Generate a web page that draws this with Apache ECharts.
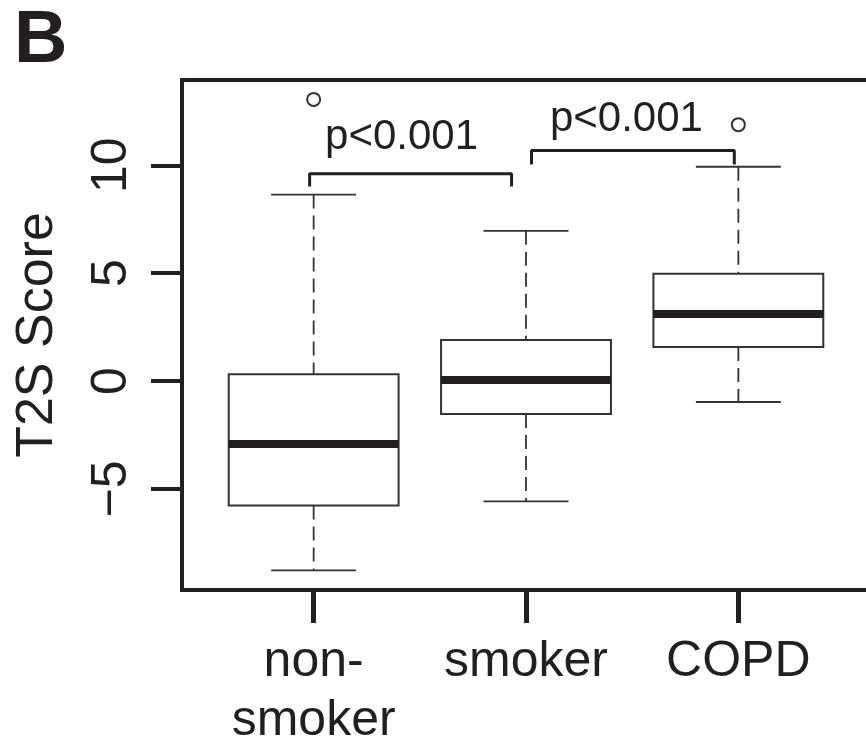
<!DOCTYPE html>
<html>
<head>
<meta charset="utf-8">
<script src="https://cdn.jsdelivr.net/npm/echarts@6/dist/echarts.min.js"></script>
<style>
  html, body { margin: 0; padding: 0; background: #fff; }
  #chart { width: 866px; height: 742px; }
</style>
</head>
<body>
<div id="chart"></div>
<script>
// group names and their x positions
const categories = ['non-\nsmoker', 'smoker', 'COPD'];
const positions = [1, 2, 3];

// box statistics
const lowWhisker = [-8.77, -5.57, -0.97];
const q1 = [-5.76, -1.53, 1.58];
const median = [-2.92, 0.05, 3.11];
const q3 = [0.32, 1.90, 4.97];
const highWhisker = [8.64, 6.96, 9.93];
const outliers = [[1, 13.05], [3, 11.88]];

const yTicks = [-5, 0, 5, 10];

// significance brackets and their labels
const bracketA = [[0.981, 9.01], [0.981, 9.61], [1.932, 9.61], [1.932, 9.01]];
const bracketB = [[2.026, 10.03], [2.026, 10.68], [2.981, 10.68], [2.981, 10.03]];
const pLabels = [[1.414, 11.28, 'p<0.001'], [2.473, 12.12, 'p<0.001']];

const ink = '#231f20';
const font = '"Liberation Sans", Arial, Helvetica, sans-serif';

const boxData = positions.map((x, i) => [x, lowWhisker[i], q1[i], median[i], q3[i], highWhisker[i]]);

const chart = echarts.init(document.getElementById('chart'));

const renderBox = (params, api) => {
  const x = api.value(0);
  const lo = api.coord([x, api.value(1)]);
  const b1 = api.coord([x, api.value(2)]);
  const md = api.coord([x, api.value(3)]);
  const b3 = api.coord([x, api.value(4)]);
  const hi = api.coord([x, api.value(5)]);
  const half = api.size([0.4, 0])[0];
  const cap = api.size([0.2, 0])[0];
  const solid = { stroke: '#333', lineWidth: 1.8 };
  const dashed = { stroke: '#333', lineWidth: 1.8, lineDash: [14, 7] };
  return {
    type: 'group',
    children: [
      { type: 'line', shape: { x1: hi[0], y1: hi[1], x2: b3[0], y2: b3[1] }, style: dashed },
      { type: 'line', shape: { x1: b1[0], y1: b1[1], x2: lo[0], y2: lo[1] }, style: dashed },
      { type: 'line', shape: { x1: hi[0] - cap, y1: hi[1], x2: hi[0] + cap, y2: hi[1] }, style: solid },
      { type: 'line', shape: { x1: lo[0] - cap, y1: lo[1], x2: lo[0] + cap, y2: lo[1] }, style: solid },
      {
        type: 'rect',
        shape: { x: b3[0] - half, y: b3[1], width: half * 2, height: b1[1] - b3[1] },
        style: { fill: '#fff', stroke: '#333', lineWidth: 2 }
      },
      { type: 'line', shape: { x1: md[0] - half, y1: md[1], x2: md[0] + half, y2: md[1] }, style: { stroke: ink, lineWidth: 8 } }
    ]
  };
};

const option = {
  animation: false,
  backgroundColor: '#fff',
  textStyle: { fontFamily: font },
  grid: {
    left: 182,
    top: 80,
    width: 688,
    height: 510,
    outerBoundsMode: 'none',
    containLabel: false,
    show: true,
    borderColor: ink,
    borderWidth: 4,
    backgroundColor: 'transparent'
  },
  graphic: [
    {
      type: 'text',
      left: 14,
      top: 5,
      style: { text: 'B', font: 'bold 74px ' + font, fill: ink }
    }
  ],
  xAxis: {
    type: 'value',
    min: 0.38,
    max: 3.62,
    splitLine: { show: false },
    axisLine: { show: true, onZero: false, lineStyle: { color: ink, width: 4 } },
    axisTick: { show: true, customValues: positions, length: 33, lineStyle: { color: ink, width: 5 } },
    axisLabel: {
      customValues: positions,
      formatter: v => categories[Math.round(v) - 1],
      fontSize: 50,
      lineHeight: 59,
      color: ink,
      margin: 43,
      fontFamily: font
    }
  },
  yAxis: {
    type: 'value',
    min: -9.68,
    max: 13.95,
    splitLine: { show: false },
    axisLine: { show: true, onZero: false, lineStyle: { color: ink, width: 4 } },
    axisTick: { show: true, customValues: yTicks, length: 31, lineStyle: { color: ink, width: 4 } },
    axisLabel: {
      customValues: yTicks,
      rotate: 90,
      formatter: v => String(v).replace('-', '\u2212'),
      fontSize: 50,
      color: ink,
      margin: 45,
      fontFamily: font
    },
    name: 'T2S Score',
    nameLocation: 'middle',
    nameRotate: 90,
    nameGap: 118,
    nameTextStyle: { fontSize: 52, color: ink, fontFamily: font }
  },
  series: [
    {
      type: 'custom',
      renderItem: renderBox,
      data: boxData,
      encode: { x: 0, y: [1, 2, 3, 4, 5] },
      z: 2
    },
    {
      type: 'scatter',
      data: outliers,
      symbol: 'emptyCircle',
      symbolSize: 13,
      itemStyle: { color: '#333', borderColor: '#333', borderWidth: 1.8, opacity: 1 },
      z: 3
    },
    {
      type: 'line',
      data: bracketA,
      symbol: 'none',
      lineStyle: { color: ink, width: 3 },
      z: 3
    },
    {
      type: 'line',
      data: bracketB,
      symbol: 'none',
      lineStyle: { color: ink, width: 3 },
      z: 3
    },
    {
      type: 'scatter',
      data: pLabels,
      symbolSize: 0,
      itemStyle: { opacity: 1 },
      label: {
        show: true,
        position: 'inside',
        formatter: p => p.data[2],
        fontSize: 42,
        color: ink,
        fontFamily: font
      },
      z: 4
    }
  ]
};

chart.setOption(option);
</script>
</body>
</html>
